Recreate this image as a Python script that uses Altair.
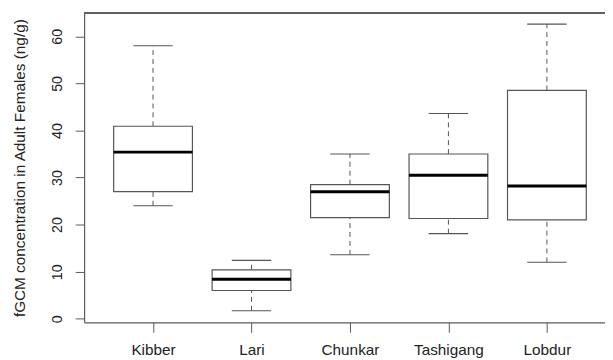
import altair as alt
import pandas as pd

categories = ["Kibber", "Lari", "Chunkar", "Tashigang", "Lobdur"]
lower_whisker = [24.0, 1.7, 13.6, 18.1, 12.0]
q1 = [27.0, 6.0, 21.5, 21.3, 21.0]
median = [35.4, 8.4, 27.0, 30.5, 28.2]
q3 = [40.9, 10.4, 28.5, 35.0, 48.5]
upper_whisker = [58.0, 12.4, 35.0, 43.6, 62.6]

Y_DOMAIN = [-0.77, 64.95]
X_DOMAIN = [0.3, 5.59]
y_ticks = [0, 10, 20, 30, 40, 50, 60]
x_ticks = [1, 2, 3, 4, 5]

df = pd.DataFrame({
    "cat": categories,
    "pos": list(range(1, len(categories) + 1)),
    "lw": lower_whisker,
    "q1": q1,
    "med": median,
    "q3": q3,
    "uw": upper_whisker,
})

FONT = "Liberation Sans"
FRAME = "#5a5a5a"
BOX = "#555555"

label_expr = "[" + ",".join(f"'{c}'" for c in categories) + "][datum.value - 1]"

xscale = alt.Scale(domain=X_DOMAIN, nice=False, zero=False)
yscale = alt.Scale(domain=Y_DOMAIN, nice=False, zero=False)

x_axis = alt.Axis(
    values=x_ticks, labelExpr=label_expr, title=None, grid=False,
    tickSize=10, tickColor=FRAME, domainColor=FRAME, domainWidth=1.2,
    labelFont=FONT, labelFontSize=15.5, labelColor="#222222",
    labelPadding=11, labelBaseline="top", labelAngle=0,
)
y_axis = alt.Axis(
    values=y_ticks, title="fGCM concentration in Adult Females (ng/g)", grid=False,
    tickSize=9, tickColor=FRAME, domainColor=FRAME, domainWidth=1.2,
    labelFont=FONT, labelFontSize=14.5, labelColor="#222222",
    labelAngle=-90, labelAlign="center", labelBaseline="bottom", labelPadding=11,
    titleFont=FONT, titleFontSize=15.5, titleFontWeight="normal", titleColor="#222222",
    titleX=-57, titleY=156.5, titleAngle=-90, titleAlign="center", titleBaseline="bottom",
)

base = alt.Chart(df).transform_calculate(
    xl="datum.pos - 0.4", xr="datum.pos + 0.4",
    cl="datum.pos - 0.2", cr="datum.pos + 0.2",
)

whisk_up = base.mark_rule(color=BOX, strokeWidth=1, strokeDash=[5, 4]).encode(
    x=alt.X("pos:Q", scale=xscale, axis=x_axis),
    y=alt.Y("q3:Q", scale=yscale, axis=y_axis),
    y2="uw:Q",
)
whisk_dn = base.mark_rule(color=BOX, strokeWidth=1, strokeDash=[5, 4]).encode(
    x=alt.X("pos:Q", scale=xscale), y=alt.Y("lw:Q", scale=yscale), y2="q1:Q",
)
cap_up = base.mark_rule(color=BOX, strokeWidth=1.2).encode(
    x=alt.X("cl:Q", scale=xscale), x2="cr:Q", y=alt.Y("uw:Q", scale=yscale),
)
cap_dn = base.mark_rule(color=BOX, strokeWidth=1.2).encode(
    x=alt.X("cl:Q", scale=xscale), x2="cr:Q", y=alt.Y("lw:Q", scale=yscale),
)
box = base.mark_rect(fill="white", stroke=BOX, strokeWidth=1.2).encode(
    x=alt.X("xl:Q", scale=xscale), x2="xr:Q",
    y=alt.Y("q1:Q", scale=yscale), y2="q3:Q",
)
med = base.mark_rule(color="black", strokeWidth=3).encode(
    x=alt.X("xl:Q", scale=xscale), x2="xr:Q", y=alt.Y("med:Q", scale=yscale),
)
top = alt.Chart(df).mark_rule(color=FRAME, strokeWidth=1.2).encode(
    y=alt.datum(Y_DOMAIN[1], scale=yscale),
)

chart = alt.layer(whisk_up, whisk_dn, cap_up, cap_dn, box, med, top).properties(
    width=527, height=313,
    autosize=alt.AutoSizeParams(type="none"),
    padding={"left": 77, "top": 3, "right": 0, "bottom": 36},
    background="white",
).configure_view(stroke=None)

chart.save("out.html", embed_options={"renderer": "svg", "actions": False})
